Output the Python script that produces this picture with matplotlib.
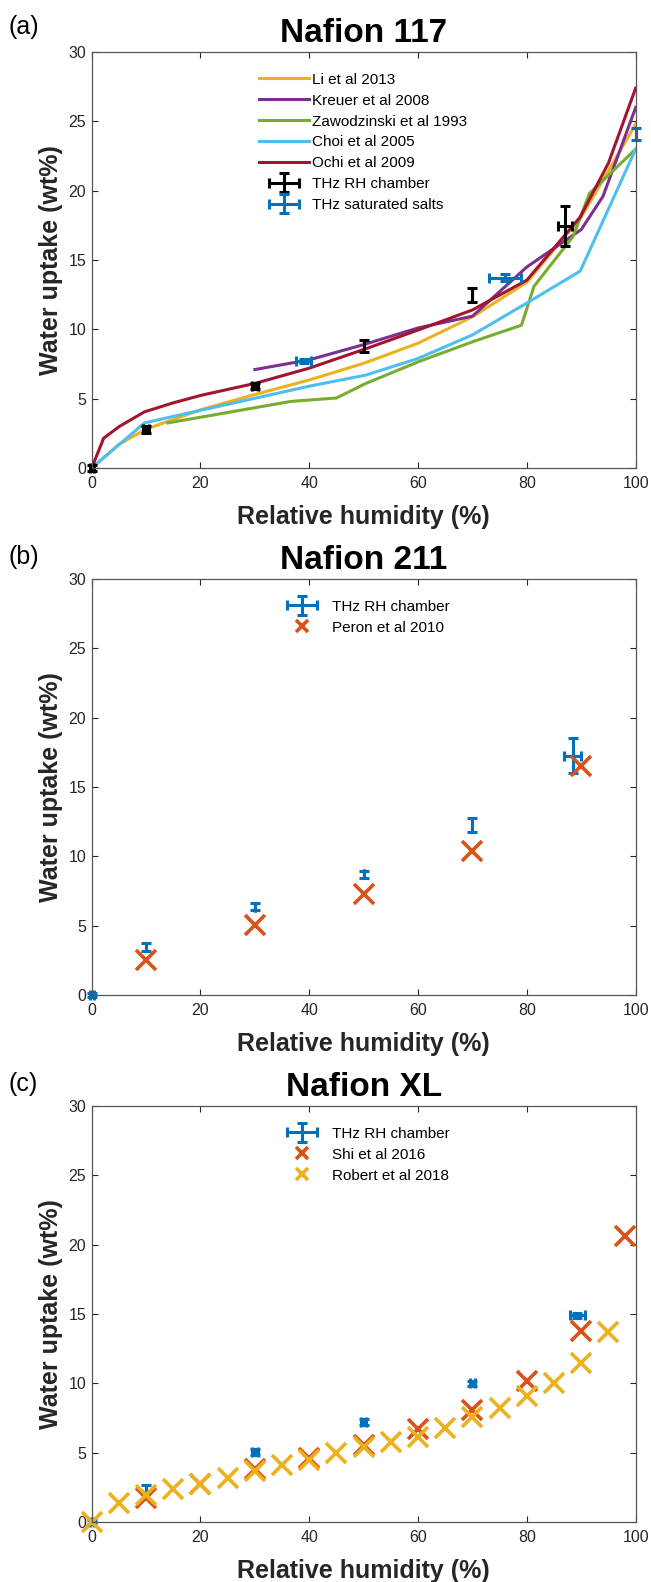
import numpy as np
import matplotlib
matplotlib.use('Agg')
import matplotlib.pyplot as plt
from matplotlib.container import ErrorbarContainer
from matplotlib.legend_handler import HandlerErrorbar

plt.rcParams['font.family'] = ['Liberation Sans', 'DejaVu Sans']

# ---------------- datos panel (a) Nafion 117 ----------------
li_rh = [0, 5, 10, 15, 20, 30, 40, 50, 60, 70, 80, 90, 100]
li_wu = [0, 1.7, 2.8, 3.5, 4.2, 5.3, 6.35, 7.55, 9.0, 10.9, 13.4, 18.1, 24.8]

kreuer_rh = [30, 40, 50, 60, 70, 80, 90, 94, 100]
kreuer_wu = [7.1, 7.8, 8.9, 10.1, 10.95, 14.5, 17.2, 19.6, 26.0]

zawo_rh = [14, 36.6, 45, 50.4, 60.3, 70, 79, 81.3, 88.5, 91.5, 100]
zawo_wu = [3.25, 4.8, 5.05, 6.1, 7.7, 9.1, 10.3, 13.1, 16.7, 19.8, 23.0]

choi_rh = [0, 9.7, 17.6, 40, 50.4, 60, 70, 80, 89.8, 100]
choi_wu = [0, 3.25, 3.95, 5.9, 6.7, 7.9, 9.6, 11.9, 14.2, 23.0]

ochi_rh = [0, 2.2, 5.1, 9.7, 15, 20.2, 30, 40, 50.4, 60, 70, 80, 89.8, 95, 100]
ochi_wu = [0, 2.15, 3.0, 4.05, 4.7, 5.25, 6.1, 7.2, 8.6, 9.95, 11.4, 13.55, 18.1, 22.0, 27.4]

# THz RH chamber (Nafion 117)
thz117_rh = [0, 10, 30, 50, 70, 87]
thz117_wu = [0, 2.8, 5.9, 8.8, 12.45, 17.45]
thz117_xerr = [0.4, 0.5, 0.5, 0.0, 0.0, 1.2]
thz117_yerr = [0.25, 0.25, 0.2, 0.45, 0.5, 1.45]

# THz saturated salts (Nafion 117)
sal_rh = [39, 76, 100]
sal_wu = [7.73, 13.73, 24.1]
sal_xerr = [1.4, 2.9, 0.0]
sal_yerr = [0.15, 0.25, 0.45]

# ---------------- datos panel (b) Nafion 211 ----------------
thz211_rh = [0, 10, 30, 50, 70, 88.4]
thz211_wu = [0, 3.45, 6.35, 8.7, 12.25, 17.25]
thz211_xerr = [0.4, 0.0, 0.0, 0.0, 0.0, 1.6]
thz211_yerr = [0.15, 0.3, 0.25, 0.25, 0.5, 1.25]

peron_rh = [10, 30, 50, 70, 90]
peron_wu = [2.5, 5.05, 7.25, 10.35, 16.5]

# ---------------- datos panel (c) Nafion XL ----------------
thzxl_rh = [0, 10, 30, 50, 70, 89.3]
thzxl_wu = [0, 2.4, 5.05, 7.2, 10.0, 14.9]
thzxl_xerr = [0.4, 0.0, 0.5, 0.5, 0.5, 1.4]
thzxl_yerr = [0.15, 0.3, 0.2, 0.2, 0.2, 0.2]

shi_rh = [10, 20, 30, 40, 50, 60, 70, 80, 90, 98]
shi_wu = [1.75, 2.75, 3.8, 4.65, 5.55, 6.7, 8.1, 10.2, 13.8, 20.6]

robert_rh = [0, 5, 10, 15, 20, 25, 30, 35, 40, 45, 50, 55, 60, 65, 70, 75, 80, 85, 90, 95]
robert_wu = [0, 1.35, 1.95, 2.35, 2.75, 3.2, 3.65, 4.08, 4.45, 4.95, 5.4, 5.8, 6.15, 6.75, 7.55, 8.2, 9.1, 10.0, 11.5, 13.7]

# colores estilo MATLAB
c_azul = '#0072BD'
c_naranja = '#D95319'
c_amarillo = '#EDB120'
c_morado = '#7E2F8E'
c_verde = '#77AC30'
c_celeste = '#4DBEEE'
c_rojo = '#A2142F'
c_texto = '#262626'

W, H = 651, 1582
fig = plt.figure(figsize=(W / 100, H / 100), dpi=100)

ax_left = 91.7 / W
ax_width = 544 / W
ax_h = 416 / H
tops = [52, 579, 1106]


def nuevo_eje(top):
    ax = fig.add_axes([ax_left, 1 - (top + 416) / H, ax_width, ax_h])
    ax.set_xlim(0, 100)
    ax.set_ylim(0, 30)
    ax.set_xticks(np.arange(0, 101, 20))
    ax.set_yticks(np.arange(0, 31, 5))
    ax.tick_params(direction='in', top=True, right=True, length=4, width=0.8,
                   labelsize=11.5, colors=c_texto, pad=5.5)
    ax.tick_params(axis='y', pad=4)
    for s in ax.spines.values():
        s.set_color('#555555')
        s.set_linewidth(0.9)
    ax.set_xlabel('Relative humidity (%)', fontsize=18, fontweight='bold', color=c_texto, labelpad=10)
    ax.set_ylabel('Water uptake (wt%)', fontsize=18, fontweight='bold', color=c_texto, labelpad=4)
    return ax


eb_kw = dict(fmt='none', elinewidth=2.2, capsize=3.5, capthick=2.2, clip_on=False)
x_kw = dict(linestyle='none', marker='x', markersize=14, markeredgewidth=2.6, clip_on=False)
handler = {ErrorbarContainer: HandlerErrorbar(xerr_size=1.0, yerr_size=0.62)}
leg_kw = dict(loc='upper left', frameon=False, fontsize=11, handlelength=3.3,
              labelspacing=0.45, borderaxespad=0, borderpad=0, handler_map=handler)

# ---------------- (a) ----------------
ax1 = nuevo_eje(tops[0])
l1, = ax1.plot(li_rh, li_wu, color=c_amarillo, lw=2.2)
l2, = ax1.plot(kreuer_rh, kreuer_wu, color=c_morado, lw=2.2)
l3, = ax1.plot(zawo_rh, zawo_wu, color=c_verde, lw=2.2)
l4, = ax1.plot(choi_rh, choi_wu, color=c_celeste, lw=2.2)
l5, = ax1.plot(ochi_rh, ochi_wu, color=c_rojo, lw=2.2)
e1 = ax1.errorbar(thz117_rh, thz117_wu, yerr=thz117_yerr, xerr=thz117_xerr, color='black', **eb_kw)
e2 = ax1.errorbar(sal_rh, sal_wu, yerr=sal_yerr, xerr=sal_xerr, color=c_azul, **eb_kw)
ax1.set_title('Nafion 117', fontsize=24, fontweight='bold', pad=7)
ax1.legend([l1, l2, l3, l4, l5, e1, e2],
           ['Li et al 2013', 'Kreuer et al 2008', 'Zawodzinski et al 1993', 'Choi et al 2005',
            'Ochi et al 2009', 'THz RH chamber', 'THz saturated salts'],
           bbox_to_anchor=(0.3075, 0.95), handletextpad=0.2, **leg_kw)

# ---------------- (b) ----------------
ax2 = nuevo_eje(tops[1])
e3 = ax2.errorbar(thz211_rh, thz211_wu, yerr=thz211_yerr, xerr=thz211_xerr, color=c_azul, **eb_kw)
p1, = ax2.plot(peron_rh, peron_wu, color=c_naranja, **x_kw)
ax2.set_title('Nafion 211', fontsize=24, fontweight='bold', pad=7)
ax2.legend([e3, p1], ['THz RH chamber', 'Peron et al 2010'],
           bbox_to_anchor=(0.34, 0.95), handletextpad=0.3, markerscale=0.65, **leg_kw)

# ---------------- (c) ----------------
ax3 = nuevo_eje(tops[2])
e4 = ax3.errorbar(thzxl_rh, thzxl_wu, yerr=thzxl_yerr, xerr=thzxl_xerr, color=c_azul, **eb_kw)
p2, = ax3.plot(shi_rh, shi_wu, color=c_naranja, **x_kw)
p3, = ax3.plot(robert_rh, robert_wu, color=c_amarillo, **x_kw)
ax3.set_title('Nafion XL', fontsize=24, fontweight='bold', pad=7)
ax3.legend([e4, p2, p3], ['THz RH chamber', 'Shi et al 2016', 'Robert et al 2018'],
           bbox_to_anchor=(0.34, 0.95), handletextpad=0.3, markerscale=0.65, **leg_kw)

# etiquetas de panel
for etiqueta, yy in zip(['(a)', '(b)', '(c)'], [27, 557, 1084]):
    fig.text(8 / W, 1 - yy / H, etiqueta, fontsize=18, va='center', ha='left', color='black')

plt.savefig('out.png', dpi=100)
